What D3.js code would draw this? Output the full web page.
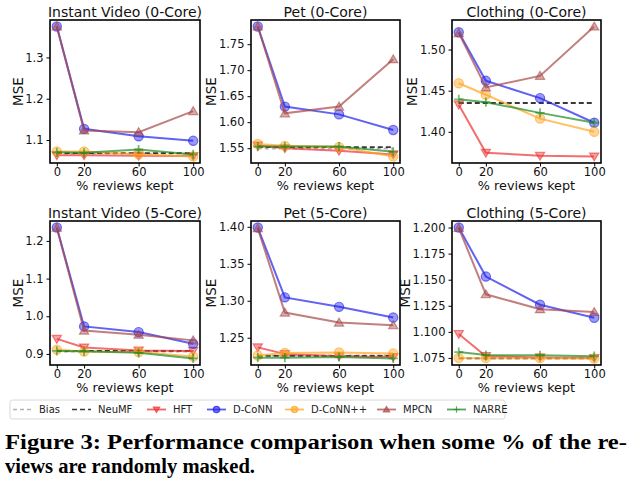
<!DOCTYPE html>
<html><head><meta charset="utf-8">
<script src="https://cdn.jsdelivr.net/npm/d3@7"></script>
<style>
html,body{margin:0;padding:0;background:#fff;}
svg{display:block;}
</style></head>
<body><svg id="c" width="631" height="498" font-family="DejaVu Sans"></svg>
<script>
const xVals = [0, 20, 60, 100];
const xTicks = [0, 20, 60, 100];
const titles = ["Instant Video (0-Core)", "Pet (0-Core)", "Clothing (0-Core)",
                "Instant Video (5-Core)", "Pet (5-Core)", "Clothing (5-Core)"];
const yTicks = [
  [1.1, 1.2, 1.3],
  [1.55, 1.60, 1.65, 1.70, 1.75],
  [1.40, 1.45, 1.50],
  [0.9, 1.0, 1.1, 1.2],
  [1.25, 1.30, 1.35, 1.40],
  [1.075, 1.100, 1.125, 1.150, 1.175, 1.200]
];
const yTickFormats = [".1f", ".2f", ".2f", ".1f", ".2f", ".3f"];

const bias = [
  [1.067, 1.067, 1.067, 1.067],
  [1.549, 1.549, 1.549, 1.549],
  null,
  [0.906, 0.906, 0.906, 0.906],
  [1.226, 1.226, 1.226, 1.226],
  null
];
const neumf = [
  [1.068, 1.068, 1.068, 1.068],
  [1.552, 1.552, 1.552, 1.552],
  [1.435, 1.435, 1.435, 1.435],
  [0.908, 0.908, 0.908, 0.908],
  [1.2255, 1.2255, 1.2255, 1.2255],
  [1.0745, 1.0745, 1.0745, 1.0745]
];
const hft = [
  [1.063, 1.063, 1.062, 1.061],
  [1.555, 1.550, 1.545, 1.538],
  [1.433, 1.3745, 1.371, 1.370],
  [0.940, 0.917, 0.909, 0.908],
  [1.237, 1.228, 1.225, 1.224],
  [1.098, 1.0767, 1.0755, 1.075]
];
const dconn = [
  [1.375, 1.127, 1.109, 1.098],
  [1.784, 1.630, 1.615, 1.585],
  [1.521, 1.462, 1.441, 1.411],
  [1.2355, 0.973, 0.958, 0.927],
  [1.399, 1.3046, 1.2918, 1.2773],
  [1.200, 1.153, 1.126, 1.1135]
];
const dconnpp = [
  [1.072, 1.072, 1.065, 1.060],
  [1.558, 1.5545, 1.5525, 1.534],
  [1.459, 1.445, 1.416, 1.400],
  [0.9115, 0.906, 0.905, 0.893],
  [1.226, 1.2295, 1.230, 1.2286],
  [1.075, 1.0748, 1.0748, 1.0745]
];
const mpcn = [
  [1.375, 1.123, 1.119, 1.170],
  [1.784, 1.617, 1.630, 1.721],
  [1.520, 1.454, 1.468, 1.528],
  [1.235, 0.962, 0.951, 0.936],
  [1.398, 1.284, 1.2705, 1.2668],
  [1.1995, 1.136, 1.1217, 1.119]
];
const narre = [
  [1.070, 1.069, 1.077, 1.065],
  [1.553, 1.553, 1.553, 1.543],
  [1.4395, 1.436, 1.423, 1.411],
  [0.908, 0.907, 0.903, 0.888],
  [1.223, 1.223, 1.224, 1.222],
  [1.0806, 1.0777, 1.0775, 1.0767]
];

const seriesNames = ["Bias", "NeuMF", "HFT", "D-CoNN", "D-CoNN++", "MPCN", "NARRE"];
const seriesData = [bias, neumf, hft, dconn, dconnpp, mpcn, narre];
const seriesColor = ["#aaaaaa", "#222222", "#ee3030", "#2020ee", "#ffa520", "#a84848", "#1e8a1e"];
const seriesDash = ["4,3", "5,3", null, null, null, null, null];
const seriesMarker = [null, null, "tdown", "circle", "circle", "tup", "plus"];

const svg = d3.select("#c");

const colsX = [[50, 200], [251, 400], [452, 601]];
const rowsY = [[20, 163], [221, 365]];

function markerPath(type, s) {
  if (type === "tdown") {
    return `M${-s},${-s*0.75}L${s},${-s*0.75}L0,${s*0.95}Z`;
  } else if (type === "tup") {
    return `M${-s},${s*0.75}L${s},${s*0.75}L0,${-s*0.95}Z`;
  } else if (type === "circle") {
    return d3.symbol(d3.symbolCircle, Math.PI * s * s)();
  } else if (type === "plus") {
    return `M${-s},0L${s},0M0,${-s}L0,${s}`;
  }
  return "";
}

titles.forEach((title, p) => {
  const col = p % 3, row = Math.floor(p / 3);
  const [x0, x1] = colsX[col];
  const [y0, y1] = rowsY[row];
  const x = d3.scaleLinear().domain([-5, 105]).range([x0, x1]);
  const vals = [];
  seriesData.forEach(s => { if (s[p]) vals.push(...s[p]); });
  const ext = d3.extent(vals);
  const pad = (ext[1] - ext[0]) * 0.05;
  const y = d3.scaleLinear().domain([ext[0] - pad, ext[1] + pad]).range([y1, y0]);

  const g = svg.append("g");
  const clipId = "clip" + p;
  svg.append("clipPath").attr("id", clipId).append("rect")
    .attr("x", x0).attr("y", y0).attr("width", x1 - x0).attr("height", y1 - y0);

  const plot = g.append("g").attr("clip-path", `url(#${clipId})`);
  const line = d3.line().x((d, i) => x(xVals[i])).y(d => y(d));

  seriesData.forEach((sd, si) => {
    const d = sd[p];
    if (!d) return;
    const c = seriesColor[si];
    plot.append("path").attr("d", line(d)).attr("fill", "none")
      .attr("stroke", c).attr("stroke-width", si < 2 ? 1.8 : 2)
      .attr("stroke-opacity", si < 2 ? 0.9 : 0.7)
      .attr("stroke-dasharray", seriesDash[si]);
    if (seriesMarker[si]) {
      plot.selectAll(null).data(d).enter().append("path")
        .attr("transform", (v, i) => `translate(${x(xVals[i])},${y(v)})`)
        .attr("d", markerPath(seriesMarker[si], 4.6))
        .attr("fill", seriesMarker[si] === "plus" ? "none" : c)
        .attr("fill-opacity", 0.45)
        .attr("stroke", c).attr("stroke-opacity", 0.6)
        .attr("stroke-width", seriesMarker[si] === "plus" ? 1.8 : 1.2);
    }
  });

  g.append("rect").attr("x", x0).attr("y", y0).attr("width", x1 - x0).attr("height", y1 - y0)
    .attr("fill", "none").attr("stroke", "#000").attr("stroke-width", 1.6);

  const xa = g.append("g").attr("transform", `translate(0,${y1})`)
    .call(d3.axisBottom(x).tickValues(xTicks).tickSize(3.5).tickPadding(1).tickFormat(d3.format("d")));
  xa.select(".domain").remove();
  xa.attr("font-family", "DejaVu Sans").attr("font-size", 11.5);
  xa.selectAll("line").attr("stroke", "#000").attr("stroke-width", 1);
  xa.selectAll("text").attr("fill", "#111");

  const ya = g.append("g").attr("transform", `translate(${x0},0)`)
    .call(d3.axisLeft(y).tickValues(yTicks[p]).tickSize(3.5).tickPadding(3)
      .tickFormat(d3.format(yTickFormats[p])));
  ya.select(".domain").remove();
  ya.attr("font-family", "DejaVu Sans").attr("font-size", 11.5);
  ya.selectAll("line").attr("stroke", "#000").attr("stroke-width", 1);
  ya.selectAll("text").attr("fill", "#111");

  let minX = x0;
  ya.selectAll("text").each(function () {
    const b = this.getBBox();
    minX = Math.min(minX, x0 + b.x);
  });

  g.append("text").attr("transform", `translate(${minX - 2.5},${(y0 + y1) / 2}) rotate(-90)`)
    .attr("text-anchor", "middle").attr("font-size", 13.5).attr("fill", "#111").text("MSE");

  g.append("text").attr("x", (x0 + x1) / 2).attr("y", y1 + 27).attr("text-anchor", "middle")
    .attr("font-size", 12.8).attr("fill", "#111").text("% reviews kept");

  g.append("text").attr("x", (x0 + x1) / 2).attr("y", y0 - 3.5).attr("text-anchor", "middle")
    .attr("font-size", 14).attr("fill", "#111").text(title);
});

// legend
const lg = svg.append("g");
lg.append("rect").attr("x", 10).attr("y", 400).attr("width", 495).attr("height", 19)
  .attr("rx", 2.5).attr("fill", "#fff").attr("stroke", "#d8d8d8").attr("stroke-width", 1);
const legendX = [13, 72, 147, 207, 285, 377, 447];
seriesNames.forEach((name, si) => {
  const lx = legendX[si], ly = 409.5;
  const c = seriesColor[si];
  lg.append("line").attr("x1", lx).attr("x2", lx + 19).attr("y1", ly).attr("y2", ly)
    .attr("stroke", c).attr("stroke-width", si < 2 ? 1.6 : 1.8)
    .attr("stroke-opacity", si < 2 ? 0.9 : 0.75)
    .attr("stroke-dasharray", seriesDash[si]);
  if (seriesMarker[si]) {
    lg.append("path").attr("transform", `translate(${lx + 9.5},${ly})`)
      .attr("d", markerPath(seriesMarker[si], 3.2))
      .attr("fill", seriesMarker[si] === "plus" ? "none" : c).attr("fill-opacity", 0.6)
      .attr("stroke", c).attr("stroke-opacity", 0.7).attr("stroke-width", 1.2);
  }
  lg.append("text").attr("x", lx + 26).attr("y", ly + 3.5).attr("font-size", 10)
    .attr("fill", "#222").text(name);
});

// caption
svg.append("text").attr("x", 5).attr("y", 449)
  .attr("font-family", "Liberation Serif").attr("font-weight", "bold").attr("font-size", 20.5)
  .attr("textLength", 622).attr("lengthAdjust", "spacingAndGlyphs").attr("fill", "#000")
  .text("Figure 3: Performance comparison when some % of the re-");
svg.append("text").attr("x", 5).attr("y", 473)
  .attr("font-family", "Liberation Serif").attr("font-weight", "bold").attr("font-size", 20.5)
  .attr("textLength", 250).attr("lengthAdjust", "spacingAndGlyphs").attr("fill", "#000")
  .text("views are randomly masked.");
</script></body></html>
